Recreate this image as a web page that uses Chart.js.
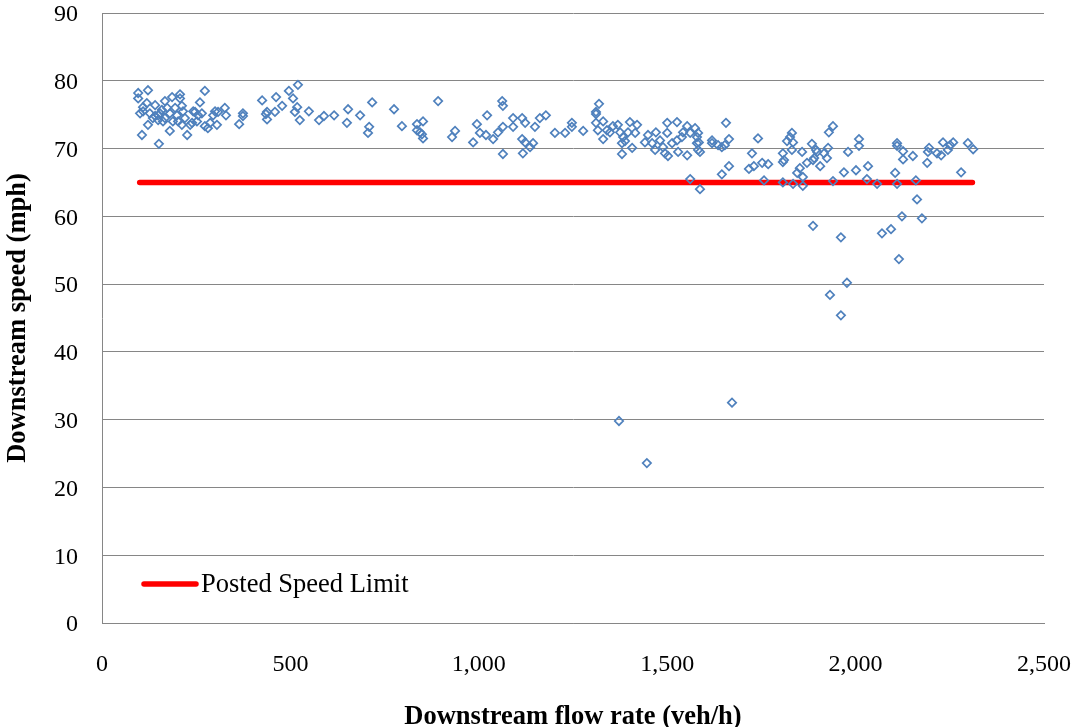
<!DOCTYPE html>
<html>
<head>
<meta charset="utf-8">
<script src="https://cdn.jsdelivr.net/npm/chart.js@4/dist/chart.umd.min.js"></script>
<style>
  html, body { margin: 0; padding: 0; background: #ffffff; }
  #wrap { width: 1082px; height: 727px; position: relative; }
</style>
</head>
<body>
<div id="wrap"><canvas id="c" width="1082" height="727"></canvas></div>
<script>
// ---- Data ----
const flow = [
  96,96,122,106,151,180,226,273,260,207,207,186,167,141,109,109,122,135,149,159,
  173,180,194,199,212,215,202,188,162,149,141,127,220,212,234,242,255,252,287,281,
  273,300,295,119,101,247,265,239,167,154,308,305,326,329,364,374,374,425,462,478,
  496,520,507,518,512,525,549,459,438,435,438,576,589,616,650,653,685,717,709,706,
  775,796,836,836,849,852,852,844,892,937,929,985,995,1003,1019,1022,1038,1051,1064,1062,
  1064,1064,1091,1091,1115,1123,1115,1123,1136,1144,1117,1149,1162,1178,1202,1229,1247,1247,1277,1319,
  1311,1311,1311,1330,1316,1330,1340,1348,1356,1369,1375,1383,1380,1380,1388,1401,1396,1420,1415,1407,
  1441,1449,1460,1470,1468,1481,1489,1500,1500,1494,1502,1513,1526,1526,1529,1539,1542,1553,1553,1561,
  1574,1579,1579,1582,1561,1587,1582,1584,1587,1656,1619,1619,1635,1645,1653,1664,1645,1664,1725,1741,
  1717,1730,1752,1768,1757,1807,1810,1807,1818,1826,1831,1834,1831,1858,1845,1852,1860,1871,1884,1890,
  1895,1807,1834,1860,1898,1887,1906,1916,1927,1924,1929,1940,1940,1969,1980,2001,2009,2009,2033,2030,
  2057,2110,2110,2126,2126,2152,2190,2105,2110,2160,2163,2123,2176,1887,1961,2070,2094,2115,1977,1932,
  1961,2195,2192,2216,2227,2232,2245,2251,2259,2280,2298,2312,1372,1446,1672
];
const speed = [
  78.2,77.4,78.6,72.0,70.7,72.6,72.0,78.5,76.8,78.0,77.4,77.6,77.0,76.4,76.1,75.5,73.5,74.5,74.9,75.7,
  76.0,75.2,76.0,74.9,76.3,75.5,74.0,74.0,74.0,74.2,74.8,75.2,74.5,73.5,73.5,75.5,74.9,74.0,73.8,73.0,
  73.3,75.5,74.9,76.7,75.2,75.4,75.2,73.8,74.5,75.2,75.4,73.5,76.0,74.9,73.6,75.2,74.8,77.1,77.6,76.3,
  78.5,79.4,77.4,76.1,75.4,74.2,75.5,75.4,75.4,75.1,74.3,74.2,74.8,74.9,73.8,75.8,74.9,76.8,73.2,72.3,
  75.8,73.3,73.6,72.7,72.1,74.0,71.5,72.4,77.0,72.6,71.7,70.9,73.6,72.3,72.0,74.9,71.4,72.4,73.2,77.0,
  76.3,69.2,74.5,73.2,74.5,73.8,71.4,70.9,70.2,70.8,69.3,73.2,74.5,74.9,72.3,72.3,73.8,73.2,72.6,76.6,
  75.4,75.1,73.8,74.0,72.7,71.4,72.7,72.4,73.3,73.5,72.4,71.7,70.8,69.2,71.1,73.9,72.4,73.5,72.3,70.1,
  70.9,72.0,70.8,72.4,69.8,71.2,70.2,73.8,72.3,69.3,68.9,70.8,71.2,73.9,69.5,71.7,72.4,73.3,69.0,72.3,
  73.0,71.7,70.8,69.8,65.5,64.0,72.3,70.9,69.5,73.8,71.2,70.8,70.5,70.2,70.5,71.4,66.2,67.4,69.3,71.5,
  67.0,67.4,67.9,67.7,65.3,69.3,68.3,68.0,71.1,71.7,72.3,70.9,69.8,69.5,66.4,67.1,65.8,67.9,70.7,68.6,
  69.8,65.0,64.8,64.5,69.5,68.3,67.4,69.3,70.1,68.6,72.4,73.3,65.2,66.5,69.5,66.8,71.4,70.4,67.4,65.5,
  64.8,70.8,70.4,69.6,68.4,68.9,67.9,66.4,64.8,65.3,62.5,60.0,59.7,58.6,56.9,57.5,58.1,53.7,50.2,48.4,
  45.4,70.1,69.5,69.3,69.0,70.9,69.8,70.5,70.9,66.5,70.8,69.9,29.8,23.6,32.5
];
const limitFlow = [100, 2310];
const limitSpeed = [65, 65];
const xTickValues = [0, 500, 1000, 1500, 2000, 2500];
const xTickLabels = ['0', '500', '1,000', '1,500', '2,000', '2,500'];
const yTickLabels = ['0', '10', '20', '30', '40', '50', '60', '70', '80', '90'];
const seriesLabels = ['Downstream speed', 'Posted Speed Limit'];
const xTitle = 'Downstream flow rate (veh/h)';
const yTitle = 'Downstream speed (mph)';

// ---- Build ----
const serif = '"Liberation Serif", "Times New Roman", Times, serif';
const scatterPts = flow.map((f, i) => ({ x: f, y: speed[i] }));
const limitPts = limitFlow.map((f, i) => ({ x: f, y: limitSpeed[i] }));

const insideLegend = {
  id: 'insideLegend',
  afterDatasetsDraw(chart) {
    const { ctx, chartArea } = chart;
    const ds = chart.data.datasets[1];
    const y = chartArea.bottom - 39;
    const x0 = chartArea.left + 42;
    const x1 = x0 + 52;
    ctx.save();
    ctx.strokeStyle = ds.borderColor;
    ctx.lineWidth = ds.borderWidth;
    ctx.lineCap = 'round';
    ctx.beginPath();
    ctx.moveTo(x0, y);
    ctx.lineTo(x1, y);
    ctx.stroke();
    ctx.fillStyle = '#000000';
    ctx.font = '26.5px ' + serif;
    ctx.textBaseline = 'middle';
    ctx.textAlign = 'left';
    ctx.fillText(ds.label, x1 + 5, y + 1);
    ctx.restore();
  }
};

new Chart(document.getElementById('c'), {
  type: 'scatter',
  data: {
    datasets: [
      {
        label: seriesLabels[0],
        data: scatterPts,
        pointStyle: 'rectRot',
        pointRadius: 4.2,
        pointHoverRadius: 4.2,
        pointBorderWidth: 1.7,
        pointBorderColor: '#4F81BD',
        pointBackgroundColor: 'rgba(0,0,0,0)',
        showLine: false
      },
      {
        label: seriesLabels[1],
        type: 'line',
        data: limitPts,
        borderColor: '#FF0000',
        borderWidth: 5.5,
        borderCapStyle: 'round',
        pointRadius: 0,
        fill: false,
        showLine: true
      }
    ]
  },
  options: {
    responsive: false,
    animation: false,
    devicePixelRatio: 1,
    layout: { padding: { top: 13, right: 38, left: 0, bottom: 0 } },
    plugins: {
      legend: { display: false },
      tooltip: { enabled: false }
    },
    scales: {
      x: {
        type: 'linear',
        min: 0, max: 2500,
        afterBuildTicks(scale) { scale.ticks = xTickValues.map(v => ({ value: v })); },
        afterFit(scale) { scale.height = 104; scale.paddingLeft = 0; scale.paddingRight = 0; },
        grid: { display: false, drawTicks: false },
        border: { display: true, color: '#868686', width: 1 },
        ticks: {
          padding: 27,
          color: '#000000',
          font: { family: serif, size: 24 },
          maxRotation: 0,
          autoSkip: false,
          callback(value) {
            const i = xTickValues.indexOf(value);
            return i >= 0 ? xTickLabels[i] : '';
          }
        },
        title: {
          display: true,
          text: xTitle,
          color: '#000000',
          font: { family: serif, size: 26.5, weight: 'bold' },
          padding: { top: 0, bottom: -6 }
        }
      },
      y: {
        type: 'linear',
        min: 0, max: 90,
        afterFit(scale) { scale.width = 102; scale.paddingTop = 0; scale.paddingBottom = 0; },
        grid: { display: true, drawTicks: false, color: '#868686', lineWidth: 1 },
        border: { display: true, color: '#868686', width: 1 },
        ticks: {
          stepSize: 10,
          padding: 24,
          labelOffset: 2,
          color: '#000000',
          font: { family: serif, size: 24, lineHeight: 1 },
          callback(value) { return yTickLabels[Math.round(value / 10)]; }
        },
        title: {
          display: true,
          text: yTitle,
          color: '#000000',
          font: { family: serif, size: 26.5, weight: 'bold' },
          padding: { top: 2, bottom: 0 }
        }
      }
    }
  },
  plugins: [insideLegend]
});
</script>
</body>
</html>
